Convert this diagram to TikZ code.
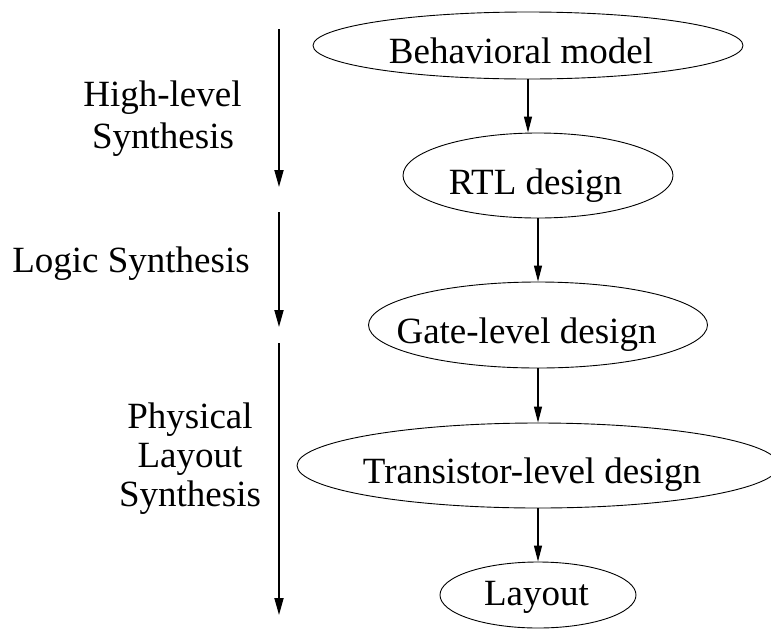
\documentclass[tikz,border=0pt]{standalone}
\usepackage{fontspec}
\setmainfont{Liberation Serif}
\usetikzlibrary{shapes.geometric,arrows.meta}
\begin{document}
\begin{tikzpicture}[x=1pt,y=-1pt,
  stage/.style={draw,ellipse,line width=0.9pt,inner sep=0pt},
  caption/.style={anchor=base,inner sep=0pt,font=\fontsize{37}{42}\selectfont},
  flow/.style={line width=1.3pt,-{Triangle[length=16pt,width=8pt]}},
  phase/.style={line width=1.8pt,-{Triangle[length=17pt,width=9pt]}}]
\useasboundingbox (0,0) rectangle (771,630);

% design stages
\node[stage,minimum width=430pt,minimum height=67pt] (beh)   at (528,45.5) {};
\node[stage,minimum width=270pt,minimum height=85pt] (rtl)   at (538,175.5) {};
\node[stage,minimum width=339pt,minimum height=86pt] (gate)  at (538,325) {};
\node[stage,minimum width=482pt,minimum height=85pt] (trans) at (538,465.5) {};
\node[stage,minimum width=196pt,minimum height=66pt] (lay)   at (538,595) {};

% stage names
\node[caption] (behT)   at (521,63)    {Behavioral model};
\node[caption] (rtlT)   at (535.5,194) {RTL design};
\node[caption] (gateT)  at (526.5,343) {Gate-level design};
\node[caption] (transT) at (532,483)   {Transistor-level design};
\node[caption] (layT)   at (536.5,605) {Layout};

% flow between stages
\draw[flow] (beh.south) -- (beh.south |- rtl.north);
\draw[flow] (rtl.south) -- (gate.north);
\draw[flow] (gate.south) -- (trans.north);
\draw[flow] (trans.south) -- (lay.north);

% synthesis phases on the left
\coordinate (h1) at (279,29);  \coordinate (h2) at (279,187);
\coordinate (l1) at (279,212); \coordinate (l2) at (279,327);
\coordinate (p1) at (279,343); \coordinate (p2) at (279,615);
\draw[phase] (h1) -- (h2);
\draw[phase] (l1) -- (l2);
\draw[phase] (p1) -- (p2);

\node[caption] (hl1) at (162.5,106.8) {High-level};
\node[caption] (hl2) at (163,148.8)   {Synthesis};
\node[caption] (ls)  at (131,272.5)   {Logic Synthesis};
\node[caption] (ph1) at (190,428)     {Physical};
\node[caption] (ph2) at (190,467)     {Layout};
\node[caption] (ph3) at (190,506)     {Synthesis};
\end{tikzpicture}
\end{document}
